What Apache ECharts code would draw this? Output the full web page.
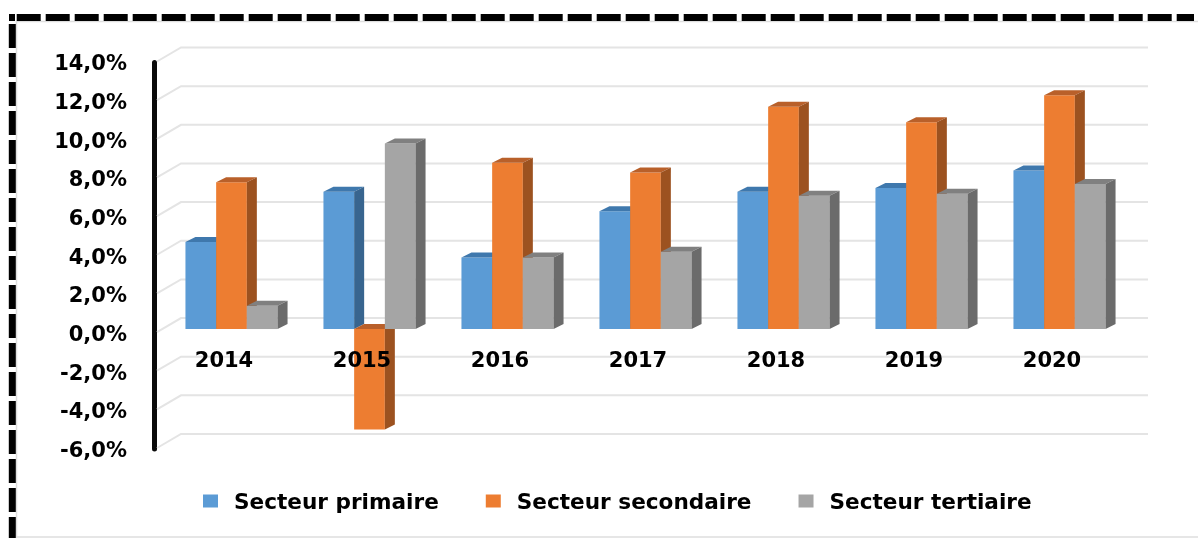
<!DOCTYPE html>
<html><head><meta charset="utf-8">
<style>html,body{margin:0;padding:0;background:#fff}#c{width:1198px;height:538px}</style>
<script src="https://cdn.jsdelivr.net/npm/echarts@6/dist/echarts.min.js"></script>
</head><body><div id="c"></div>
<script>
var categories = ['2014','2015','2016','2017','2018','2019','2020'];
var primaire   = [4.5, 7.1, 3.7, 6.1, 7.1, 7.3, 8.2];
var secondaire = [7.6, -5.2, 8.6, 8.1, 11.5, 10.7, 12.1];
var tertiaire  = [1.2, 9.6, 3.7, 4.0, 6.9, 7.0, 7.5];
var yTicks = [-6,-4,-2,0,2,4,6,8,10,12,14];
var names = ['Secteur primaire','Secteur secondaire','Secteur tertiaire'];

var FONT = '"DejaVu Sans"';
var BAR_W = 30.7, DEPTH_X = 10, DEPTH_Y = 5, PLANE_X = 7.5, PLANE_Y = -4;

function bar3d(values, idx, front, top, side) {
  return {
    type: 'custom', name: names[idx], z: 3 + idx,
    itemStyle: { color: front },
    data: values.map(function (v, i) { return [i, v]; }),
    encode: { x: 0, y: 1 },
    renderItem: function (params, api) {
      var i = api.value(0), v = api.value(1);
      var p = api.coord([i, v]), z = api.coord([i, 0]);
      var x = p[0] + PLANE_X + (idx - 1.5) * BAR_W;
      var t = Math.min(p[1], z[1]) + PLANE_Y, b = Math.max(p[1], z[1]) + PLANE_Y;
      var r = x + BAR_W;
      return { type: 'group', children: [
        { type: 'rect', shape: { x: x, y: t, width: BAR_W, height: b - t }, style: { fill: front } },
        { type: 'polygon', shape: { points: [[x, t], [x + DEPTH_X, t - DEPTH_Y], [r + DEPTH_X, t - DEPTH_Y], [r, t]] }, style: { fill: top } },
        { type: 'polygon', shape: { points: [[r, t], [r + DEPTH_X, t - DEPTH_Y], [r + DEPTH_X, b - DEPTH_Y], [r, b]] }, style: { fill: side } }
      ] };
    }
  };
}

var wallLines = {
  type: 'custom', silent: true, z: 1, legendHoverLink: false,
  data: yTicks.map(function (v) { return [0, v]; }),
  encode: { x: 0, y: 1 },
  renderItem: function (params, api) {
    var y = api.coord([0, api.value(1)])[1], cs = params.coordSys;
    return { type: 'polyline', shape: { points: [[cs.x + 2, y - 1], [cs.x + 26, y - 15], [cs.x + cs.width + 27, y - 15]] },
      style: { fill: null, stroke: '#e4e4e4', lineWidth: 2 } };
  }
};

function rule(x1, y1, x2, y2, color, w, dash) {
  return { type: 'line', silent: true, z: 20, shape: { x1: x1, y1: y1, x2: x2, y2: y2 },
    style: { stroke: color, lineWidth: w, lineDash: dash || null } };
}

var chart = echarts.init(document.getElementById('c'), null, { renderer: 'canvas' });
chart.setOption({
  animation: false,
  backgroundColor: '#fff',
  grid: { left: 155, top: 62.5, width: 966, height: 386.5, containLabel: false },
  xAxis: { type: 'category', data: categories, z: 10,
    axisLine: { show: false, onZero: false }, axisTick: { show: false }, splitLine: { show: false },
    axisLabel: { margin: -98, color: '#000', fontFamily: FONT, fontWeight: 'bold', fontSize: 21 } },
  yAxis: { type: 'value', min: -6, max: 14, interval: 2, offset: 1,
    axisLine: { show: true, lineStyle: { color: '#0a0a0a', width: 5 } }, axisTick: { show: false }, splitLine: { show: false },
    axisLabel: { margin: 27,
      formatter: function (v) { return '{t|' + v.toFixed(1).replace('.', ',') + '%}'; },
      rich: { t: { padding: [5, 0, 0, 0], color: '#000', fontFamily: FONT, fontWeight: 'bold', fontSize: 21 } } } },
  legend: { data: names, left: 203, top: 492, padding: 0, icon: 'rect', itemWidth: 15, itemHeight: 13, itemGap: 47,
    selectedMode: false,
    formatter: function (n) { return '{t|' + n + '}'; },
    textStyle: { rich: { t: { padding: [4, 0, 0, 11], color: '#000', fontFamily: FONT, fontWeight: 'bold', fontSize: 21.6 } } } },
  series: [
    wallLines,
    bar3d(primaire, 0, '#5b9bd5', '#3f78ad', '#38658f'),
    bar3d(secondaire, 1, '#ed7d31', '#b9602a', '#9c5220'),
    bar3d(tertiaire, 2, '#a5a5a5', '#808080', '#6b6b6b')
  ],
  graphic: [
    rule(16, 21.5, 1198, 21.5, '#dedede', 1.5),
    rule(16.5, 21, 16.5, 538, '#dedede', 1.5),
    rule(16, 537, 1198, 537, '#dedede', 1.5),
    rule(9, 17.5, 15, 17.5, '#000', 7),
    rule(16.7, 17.5, 1194, 17.5, '#000', 7, [24, 5]),
    rule(12.3, 24, 12.3, 538, '#000', 7, [24, 5])
  ]
});
</script></body></html>
